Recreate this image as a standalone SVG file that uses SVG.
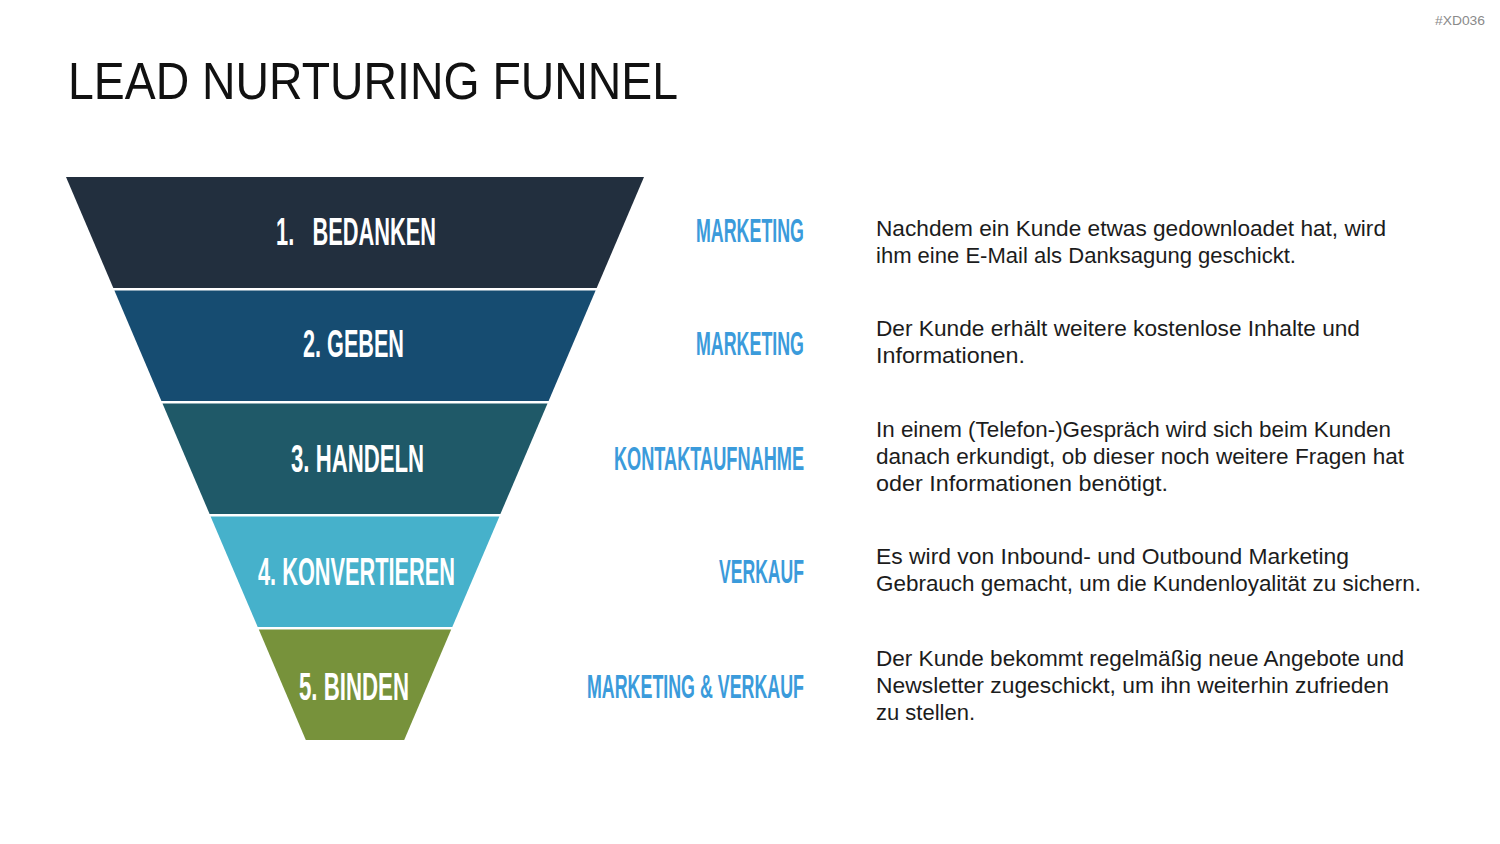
<svg xmlns="http://www.w3.org/2000/svg" width="1500" height="844" viewBox="0 0 1500 844">
<style>
.seg-label{font-family:"Liberation Sans",Arial,sans-serif;font-weight:bold;font-size:39px;fill:#ffffff}
.cat{font-family:"Liberation Sans",Arial,sans-serif;font-weight:bold;font-size:33px;fill:#3b9bdb}
.desc{font-family:"Liberation Sans",Arial,sans-serif;font-size:21.5px;fill:#1c1c1c}
.title{font-family:"Liberation Sans",Arial,sans-serif;font-size:51px;fill:#111111}
.tag{font-family:"Liberation Sans",Arial,sans-serif;font-size:13px;fill:#8a8a8a}
</style>
<rect width="1500" height="844" fill="#ffffff"/>
<text class="tag" x="1435" y="25" textLength="50" lengthAdjust="spacingAndGlyphs">#XD036</text>
<text class="title" x="68" y="99" textLength="610" lengthAdjust="spacingAndGlyphs">LEAD NURTURING FUNNEL</text>

<g id="stage1">
<polygon points="66,177 644,177 596.7,288 113.3,288" fill="#222f3e"/>
<text class="seg-label" x="276" y="245" textLength="160" lengthAdjust="spacingAndGlyphs" xml:space="preserve" style="white-space:pre">1.   BEDANKEN</text>
<text class="cat" x="696" y="242" textLength="108" lengthAdjust="spacingAndGlyphs">MARKETING</text>
<text class="desc" x="876" y="236" textLength="510" lengthAdjust="spacingAndGlyphs">Nachdem ein Kunde etwas gedownloadet hat, wird</text>
<text class="desc" x="876" y="263" textLength="420" lengthAdjust="spacingAndGlyphs">ihm eine E-Mail als Danksagung geschickt.</text>
</g>

<g id="stage2">
<polygon points="114.4,290.5 595.6,290.5 548.6,401 161.4,401" fill="#164c71"/>
<text class="seg-label" x="303" y="357" textLength="101" lengthAdjust="spacingAndGlyphs">2. GEBEN</text>
<text class="cat" x="696" y="355" textLength="108" lengthAdjust="spacingAndGlyphs">MARKETING</text>
<text class="desc" x="876" y="336" textLength="484" lengthAdjust="spacingAndGlyphs">Der Kunde erhält weitere kostenlose Inhalte und</text>
<text class="desc" x="876" y="363" textLength="149" lengthAdjust="spacingAndGlyphs">Informationen.</text>
</g>

<g id="stage3">
<polygon points="162.5,403.5 547.5,403.5 500.4,514 209.6,514" fill="#1f5968"/>
<text class="seg-label" x="291" y="472" textLength="133" lengthAdjust="spacingAndGlyphs">3. HANDELN</text>
<text class="cat" x="614" y="470" textLength="190" lengthAdjust="spacingAndGlyphs">KONTAKTAUFNAHME</text>
<text class="desc" x="876" y="437" textLength="515" lengthAdjust="spacingAndGlyphs">In einem (Telefon-)Gespräch wird sich beim Kunden</text>
<text class="desc" x="876" y="464" textLength="528" lengthAdjust="spacingAndGlyphs">danach erkundigt, ob dieser noch weitere Fragen hat</text>
<text class="desc" x="876" y="491" textLength="292" lengthAdjust="spacingAndGlyphs">oder Informationen benötigt.</text>
</g>

<g id="stage4">
<polygon points="210.6,516.5 499.4,516.5 452.3,627 257.7,627" fill="#46b1cb"/>
<text class="seg-label" x="258" y="585" textLength="197" lengthAdjust="spacingAndGlyphs">4. KONVERTIEREN</text>
<text class="cat" x="719" y="583" textLength="85" lengthAdjust="spacingAndGlyphs">VERKAUF</text>
<text class="desc" x="876" y="564" textLength="473" lengthAdjust="spacingAndGlyphs">Es wird von Inbound- und Outbound Marketing</text>
<text class="desc" x="876" y="591" textLength="545" lengthAdjust="spacingAndGlyphs">Gebrauch gemacht, um die Kundenloyalität zu sichern.</text>
</g>

<g id="stage5">
<polygon points="258.8,629.5 451.2,629.5 404.2,740 305.8,740" fill="#77923b"/>
<text class="seg-label" x="299" y="700" textLength="110" lengthAdjust="spacingAndGlyphs">5. BINDEN</text>
<text class="cat" x="587" y="698" textLength="217" lengthAdjust="spacingAndGlyphs">MARKETING &amp; VERKAUF</text>
<text class="desc" x="876" y="666" textLength="528" lengthAdjust="spacingAndGlyphs">Der Kunde bekommt regelmäßig neue Angebote und</text>
<text class="desc" x="876" y="693" textLength="513" lengthAdjust="spacingAndGlyphs">Newsletter zugeschickt, um ihn weiterhin zufrieden</text>
<text class="desc" x="876" y="720" textLength="99" lengthAdjust="spacingAndGlyphs">zu stellen.</text>
</g>

<g id="connectors"></g>
</svg>
